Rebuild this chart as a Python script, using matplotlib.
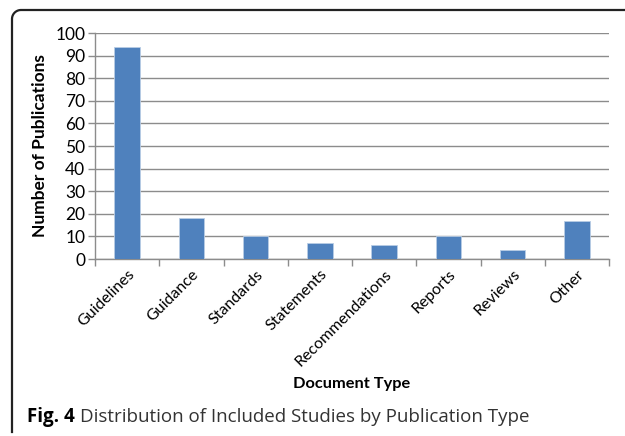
import numpy as np
import matplotlib
matplotlib.use('Agg')
import matplotlib.pyplot as plt
from matplotlib.lines import Line2D

categories = ['Guidelines', 'Guidance', 'Standards', 'Statements',
              'Recommendations', 'Reports', 'Reviews', 'Other']
counts = [94, 18, 10, 7, 6, 10, 4, 17]
yticks = [0, 10, 20, 30, 40, 50, 60, 70, 80, 90, 100]

W, H = 625, 436
fig = plt.figure(figsize=(W/100, H/100), dpi=100)
ax = fig.add_axes([95/W, 1-259/H, (609-95)/W, (259-33)/H])

x = np.arange(len(categories))
ax.bar(x, counts, width=0.4, color='#4F81BD', edgecolor='#B9CDE5', linewidth=0.6, zorder=3)
ax.set_xlim(-0.5, len(categories)-0.5)
ax.set_ylim(0, 100)
ax.set_yticks(yticks)
ax.yaxis.grid(True, color='#8C8C8C', linewidth=1.0, zorder=0)
for s in ['top', 'right']:
    ax.spines[s].set_visible(False)
for s in ['left', 'bottom']:
    ax.spines[s].set_color('#8C8C8C')
    ax.spines[s].set_linewidth(1.0)

ax.set_xticks(np.arange(len(categories)+1)-0.5, minor=False)
ax.set_xticklabels([])
ax.set_xticks(x, minor=True)
ax.set_xticklabels(categories, minor=True, rotation=45, ha='right', va='top',
                   rotation_mode='anchor', fontsize=11.5, family='Lato')
ax.tick_params(axis='x', which='major', length=5, color='#8C8C8C', width=1)
ax.tick_params(axis='x', which='minor', length=0, pad=6)
ax.tick_params(axis='y', length=5, color='#8C8C8C', width=1, labelsize=12.5, pad=2)
for lab in ax.get_yticklabels():
    lab.set_family('Lato')

ax.set_ylabel('Number of Publications', fontsize=12.5, fontweight='bold', family='Lato', labelpad=5)
fig.text(352/W, 1-384/H, 'Document Type', ha='center', va='center',
         fontsize=11.8, fontweight='bold', family='Lato')

# caption
t1 = fig.text(27/W, 1-417/H, 'Fig. 4', ha='left', va='center', fontsize=13.5,
              fontweight='bold', family='Open Sans')
fig.canvas.draw()
bb = t1.get_window_extent()
fig.text((bb.x1 + 5)/W, 1-417/H, 'Distribution of Included Studies by Publication Type',
         ha='left', va='center', fontsize=13.5, family='Open Sans', color='#333333')

# frame with rounded top-left corner
r = 9
cx, cy = 12 + r, 10 + r
theta = np.linspace(np.pi, np.pi/2, 20)
xs = np.concatenate([[12], cx + r*np.cos(theta), [W]])
ys = np.concatenate([[432], cy - r*np.sin(theta), [10]])
fig.add_artist(Line2D(xs/W, 1-ys/H, color='#222222', linewidth=1.6, transform=fig.transFigure))

fig.savefig('out.png', dpi=100)
